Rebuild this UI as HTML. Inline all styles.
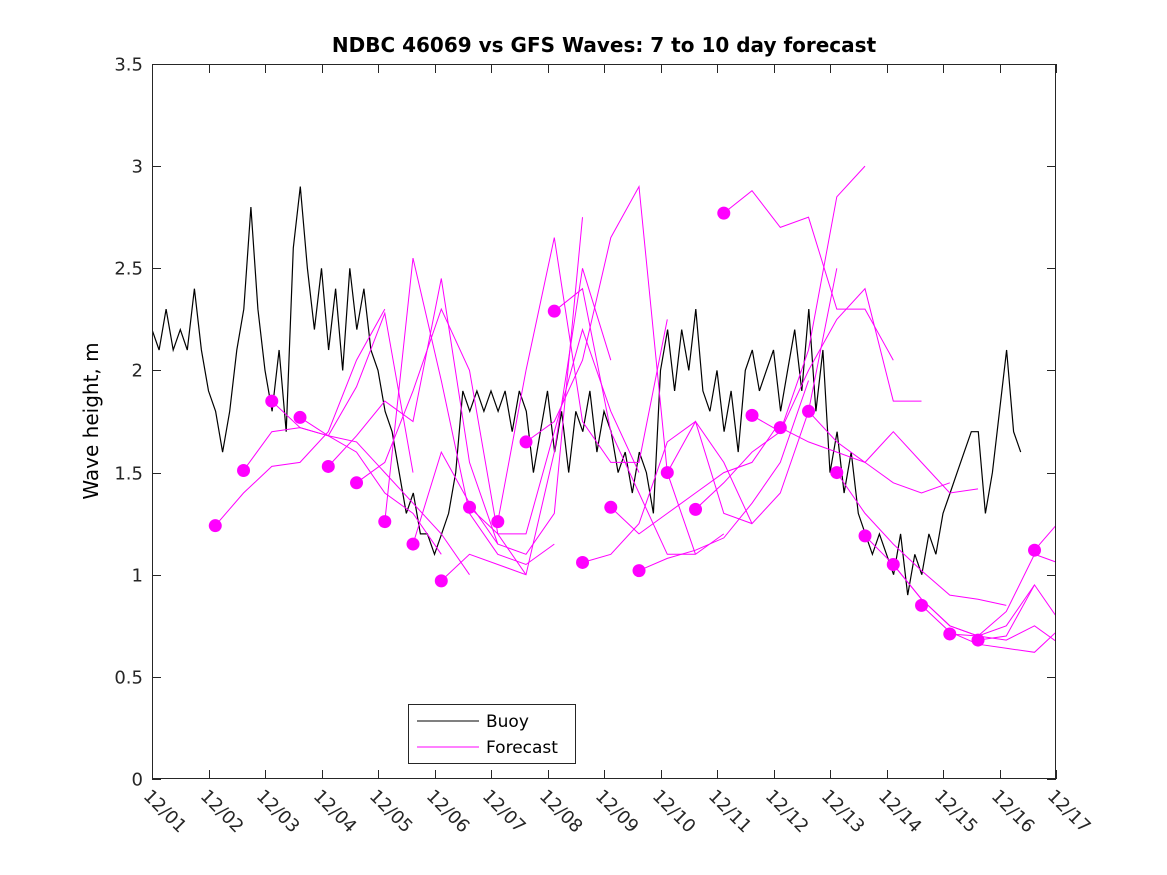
<!DOCTYPE html>
<html><head><meta charset="utf-8"><style>
html,body{margin:0;padding:0;background:#fff;}
svg{display:block;font-family:"DejaVu Sans","Liberation Sans",sans-serif;}
</style></head><body>
<svg id="chart" width="1167" height="875" viewBox="0 0 1167 875" xmlns="http://www.w3.org/2000/svg">
<rect width="1167" height="875" fill="#fff"/>
<text x="604" y="52" text-anchor="middle" font-size="20" font-weight="bold">NDBC 46069 vs GFS Waves: 7 to 10 day forecast</text>
<text transform="translate(98,421) rotate(-90)" text-anchor="middle" font-size="20">Wave height, m</text>
<g id="plot"></g>
<g id="axes"></g>
<g>
<rect x="408.5" y="704.5" width="167" height="59" fill="#fff" stroke="#262626" stroke-width="1"/>
<line x1="417" y1="721" x2="479" y2="721" stroke="#000" stroke-width="1"/>
<text x="486" y="727" font-size="17">Buoy</text>
<line x1="417" y1="747" x2="479" y2="747" stroke="#ff00ff" stroke-width="1"/>
<text x="486" y="753" font-size="17">Forecast</text>
</g>
</svg>
<script>
// buoy observations every 3 hours starting 12/01 00:00
const buoyValues = [
2.2,2.1,2.3,2.1,2.2,2.1,2.4,2.1,
1.9,1.8,1.6,1.8,2.1,2.3,2.8,2.3,
2.0,1.8,2.1,1.7,2.6,2.9,2.5,2.2,
2.5,2.1,2.4,2.0,2.5,2.2,2.4,2.1,
2.0,1.8,1.7,1.5,1.3,1.4,1.2,1.2,
1.1,1.2,1.3,1.5,1.9,1.8,1.9,1.8,
1.9,1.8,1.9,1.7,1.9,1.8,1.5,1.7,
1.9,1.6,1.8,1.5,1.8,1.7,1.9,1.6,
1.8,1.7,1.5,1.6,1.4,1.6,1.5,1.3,
2.0,2.2,1.9,2.2,2.0,2.3,1.9,1.8,
2.0,1.7,1.9,1.6,2.0,2.1,1.9,2.0,
2.1,1.8,2.0,2.2,1.9,2.3,1.8,2.1,
1.5,1.7,1.4,1.6,1.3,1.2,1.1,1.2,
1.1,1.0,1.2,0.9,1.1,1.0,1.2,1.1,
1.3,1.4,1.5,1.6,1.7,1.7,1.3,1.5,
1.8,2.1,1.7,1.6];
const buoyStepDays = 0.125;
// forecast start times (days since 12/01) and values every 12h over 3 days
const forecastStarts = [1.12,1.62,2.12,2.62,3.12,3.62,4.12,4.62,5.12,5.62,6.12,6.62,7.12,7.62,8.12,8.62,9.12,9.62,10.12,10.62,11.12,11.62,12.12,12.62,13.12,13.62,14.12,14.62,15.62];
const forecastValues = [
[1.24,1.40,1.53,1.55,1.70,2.05,2.30],
[1.51,1.70,1.72,1.68,1.92,2.28,1.50],
[1.85,1.72,1.68,1.60,1.40,1.30,1.10],
[1.77,1.68,1.65,1.50,1.35,1.20,1.00],
[1.53,1.68,1.85,1.75,2.45,1.55,1.15],
[1.45,1.55,1.90,2.30,2.00,1.20,1.00],
[1.26,2.55,1.95,1.30,1.10,1.05,1.15],
[1.15,1.60,1.35,1.15,1.10,1.30,2.75],
[0.97,1.10,1.05,1.00,1.60,2.50,2.05],
[1.33,1.20,1.20,1.70,2.20,1.80,1.50],
[1.26,2.00,2.65,1.75,1.55,1.55,2.25],
[1.65,1.75,2.05,2.65,2.90,1.50,1.10],
[2.29,2.40,1.70,1.40,1.10,1.10,1.20],
[1.06,1.10,1.25,1.65,1.75,1.30,1.25],
[1.33,1.20,1.30,1.40,1.50,1.55,1.75],
[1.02,1.08,1.12,1.18,1.35,1.55,1.95],
[1.50,1.75,1.55,1.25,1.40,1.80,2.50],
[1.32,1.45,1.60,1.70,2.10,2.85,3.00],
[2.77,2.88,2.70,2.75,2.30,2.30,2.05],
[1.78,1.70,2.00,2.25,2.40,1.85,1.85],
[1.72,1.65,1.60,1.55,1.45,1.40,1.45],
[1.80,1.65,1.55,1.70,1.55,1.40,1.42],
[1.50,1.30,1.15,1.02,0.90,0.88,0.85],
[1.19,1.05,0.88,0.75,0.70,0.75,0.95],
[1.05,0.88,0.75,0.70,0.68,0.75,0.65],
[0.85,0.72,0.66,0.64,0.62,0.75,0.72],
[0.71,0.70,0.82,1.10,1.05,0.95,0.95],
[0.68,0.70,0.95,0.75,1.00,0.80,0.80],
[1.12,1.28,1.27,1.22,1.40,1.40,1.40]];
const forecastStepDays = 0.5;
const yTicks = [0,0.5,1,1.5,2,2.5,3,3.5];
const xTickLabels = ["12/01","12/02","12/03","12/04","12/05","12/06","12/07","12/08","12/09","12/10","12/11","12/12","12/13","12/14","12/15","12/16","12/17"];

const L=152,R=1056,T=64,B=779,XMAX=16,YMAX=3.5;
const xs=d=>L+(d/XMAX)*(R-L);
const ys=v=>B-(v/YMAX)*(B-T);
const NS="http://www.w3.org/2000/svg";
const plot=document.getElementById('plot'), axes=document.getElementById('axes');
function mk(tag,attrs,parent){const e=document.createElementNS(NS,tag);for(const k in attrs)e.setAttribute(k,attrs[k]);parent.appendChild(e);return e;}

const clip=mk('clipPath',{id:'pc'},plot);mk('rect',{x:L,y:T,width:R-L,height:B-T},clip);
const g=mk('g',{'clip-path':'url(#pc)'},plot);

let bp=buoyValues.map((v,i)=>xs(i*buoyStepDays).toFixed(1)+','+ys(v).toFixed(1)).join(' ');
const bl=mk('polyline',{points:bp,fill:'none',stroke:'#000','stroke-width':1.2},g);



forecastStarts.forEach((t0,k)=>{
  const vals=forecastValues[k];
  const pts=vals.map((v,j)=>xs(t0+j*forecastStepDays).toFixed(1)+','+ys(v).toFixed(1)).join(' ');
  const pl=mk('polyline',{points:pts,fill:'none',stroke:'#ff00ff','stroke-width':1},g);
  
  
});
forecastStarts.forEach((t0,k)=>{
  const c=mk('circle',{cx:xs(t0),cy:ys(forecastValues[k][0]),r:6.5,fill:'#ff00ff'},g);
  
  
});

mk('rect',{x:L+0.5,y:T+0.5,width:R-L-1,height:B-T-1,fill:'none',stroke:'#262626','stroke-width':1},axes);
yTicks.forEach(v=>{
  const y=Math.round(ys(v))+0.5;
  mk('line',{x1:L,y1:y,x2:L+9,y2:y,stroke:'#262626'},axes);
  mk('line',{x1:R-9,y1:y,x2:R,y2:y,stroke:'#262626'},axes);
  const t=mk('text',{x:L-9,y:y+6,'text-anchor':'end','font-size':18,fill:'#262626'},axes);
  t.textContent=String(v);
  
  
});
xTickLabels.forEach((lab,i)=>{
  const x=Math.round(xs(i))+0.5;
  mk('line',{x1:x,y1:B,x2:x,y2:B-9,stroke:'#262626'},axes);
  mk('line',{x1:x,y1:T,x2:x,y2:T+9,stroke:'#262626'},axes);
  const t=mk('text',{transform:`translate(${x-10},${B+18}) rotate(45)`,'font-size':18,fill:'#262626'},axes);
  t.textContent=lab;
  
  
});
</script>
</body></html>
